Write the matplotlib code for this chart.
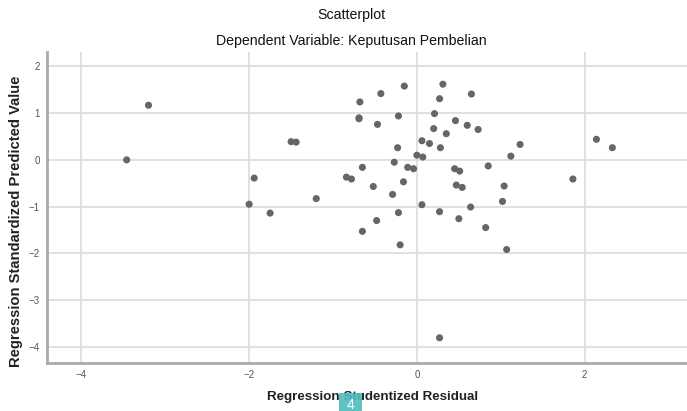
import matplotlib
matplotlib.use("Agg")
import matplotlib.pyplot as plt
from matplotlib.patches import Rectangle

plt.rcParams['font.family'] = ['Liberation Sans', 'DejaVu Sans']

# studentized residual (x) and standardized predicted value (y)
residual = [-3.20, -3.46, -1.94, -2.00, -1.75, -1.50, -1.44, -1.20, -0.68, -0.69,
            -0.69, -0.65, -0.84, -0.78, -0.43, -0.15, 0.31, 0.65, 0.27, -0.47,
            -0.22, 0.21, 0.46, 0.60, 0.73, 0.20, 0.35, 0.06, 0.15, 0.28,
            -0.23, 1.23, 1.12, 2.14, 2.33, 0.00, 0.07, -0.27, -0.11, -0.04,
            0.45, 0.51, 0.85, -0.16, -0.52, 0.47, 0.54, 1.04, 1.86, -0.29,
            1.02, 0.06, 0.64, -0.22, 0.27, -0.65, -0.48, -0.20, 0.50, 0.82,
            1.07, 0.27]
predicted = [1.17, 0.00, -0.39, -0.95, -1.14, 0.39, 0.38, -0.83, 1.24, 0.90,
             0.88, -0.16, -0.37, -0.41, 1.42, 1.58, 1.62, 1.41, 1.31, 0.76,
             0.94, 0.99, 0.84, 0.74, 0.65, 0.67, 0.56, 0.41, 0.35, 0.26,
             0.26, 0.33, 0.08, 0.44, 0.26, 0.10, 0.06, -0.05, -0.16, -0.19,
             -0.19, -0.24, -0.13, -0.47, -0.57, -0.54, -0.59, -0.56, -0.41, -0.74,
             -0.89, -0.96, -1.01, -1.13, -1.11, -1.53, -1.30, -1.82, -1.26, -1.45,
             -1.92, -3.81]

x_ticks = [-4, -2, 0, 2]
y_ticks = [-4, -3, -2, -1, 0, 1, 2]

fig = plt.figure(figsize=(6.87, 4.11), dpi=100)
ax = fig.add_axes([0.0684, 0.1168, 0.9316, 0.7567])

ax.scatter(residual, predicted, s=26, color='#666666', edgecolors='none', zorder=3)

ax.set_xlim(-4.41, 3.22)
ax.set_ylim(-4.35, 2.31)
ax.set_xticks(x_ticks)
ax.set_yticks(y_ticks)
ax.grid(True, color='#dcdcdc', linewidth=1.2)
ax.set_axisbelow(True)

for side in ['top', 'right']:
    ax.spines[side].set_visible(False)
for side in ['left', 'bottom']:
    ax.spines[side].set_color('#aaaaaa')
    ax.spines[side].set_linewidth(2)

ax.tick_params(length=0, labelsize=7, labelcolor='#555555', pad=5)

# axis titles placed by hand, like the SPSS chart
fig.text(373 / 687, 1 - 397 / 411, 'Regression Studentized Residual', ha='center', va='center',
         fontsize=9.6, fontweight='bold', color='#222222')
fig.text(16 / 687, 1 - 221 / 411, 'Regression Standardized Predicted Value', ha='center',
         va='center', rotation=90, fontsize=10.6, fontweight='bold', color='#222222')

fig.text(351 / 687, 1 - 15 / 411, 'Scatterplot', ha='center', va='center', fontsize=10.2,
         color='#111111')
fig.text(351 / 687, 1 - 41 / 411, 'Dependent Variable: Keputusan Pembelian', ha='center',
         va='center', fontsize=10.2, color='#111111')

# page badge overlapping the x label
fig.patches.append(Rectangle((339 / 687, 0), 23 / 687, 18 / 411, transform=fig.transFigure,
                             facecolor='#4dbdbd', edgecolor='none', alpha=0.9, zorder=5))
fig.text(350.5 / 687, 6 / 411, '4', ha='center', va='center', fontsize=10, color='white', zorder=6)

fig.savefig('out.png', dpi=100)
